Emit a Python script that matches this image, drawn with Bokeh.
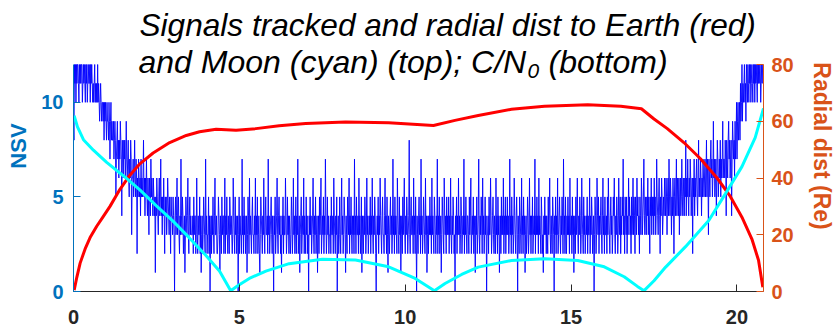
import numpy as np
from bokeh.plotting import figure
from bokeh.models import Range1d, LinearAxis, FixedTicker, Label
from bokeh.embed import file_html
from bokeh.resources import INLINE

# ---------------------------------------------------------------------------
# Data
# ---------------------------------------------------------------------------
# Number of signals tracked (NSV), sampled uniformly from t = 0 to t_end
t_end = 20.79
nsv_rise_start = [
    9, 8, 12, 11, 12, 10, 12, 11, 12, 12, 11, 10, 12, 11, 12, 11, 12, 12, 10, 11,
    12, 11, 12, 11, 10, 12, 11, 12, 10, 11, 12, 11, 11, 12, 10, 12, 11, 12, 11, 10,
    11, 10, 11, 12, 10, 11, 10, 11, 10, 12, 10, 11, 10, 9, 10, 11, 10, 9, 10, 10,
    9, 10, 8, 10, 9, 10, 9, 8, 10, 9, 9, 8, 10, 9, 7, 9, 10, 8, 9, 8,
    8, 9, 7, 8, 9, 8, 5, 7, 8, 9, 7, 8, 6, 8, 7, 9, 8, 7, 4, 8,
    7, 6, 8, 7, 8, 6, 7, 9, 7, 6, 7, 8, 6, 5, 7, 6, 8, 7, 3, 6,
    6, 7, 5, 6, 8, 6, 5, 7, 6, 2, 6, 5, 7, 6, 5, 6, 4, 7, 5, 6,
    5, 6, 8, 5, 6, 4, 6, 5, 7, 5, 4, 6, 5, 3, 6, 5, 4, 7, 5, 6,
    5, 4, 6, 5, 4, 5, 1, 5, 4, 6, 5, 4, 3, 5, 6, 4, 5, 7, 4, 5,
    3, 5, 4, 6, 4, 2, 5, 4, 5, 3, 4, 6, 5, 4, 3, 5, 4, 2, 5, 4,
    4, 3, 5, 4, 3, 0, 4, 5, 3, 4, 6, 3, 4, 5, 3, 2, 4, 3, 7, 4,
    3, 5, 4, 2, 3, 4, 1, 3, 5, 4, 3, 4, 6, 3, 2, 4, 5, 3, 4, 3,
]
nsv_middle = [
    3, 3, 4, 2, 5, 3, 4, 4, 2, 3, 6, 3, 2, 4, 3, 3, 5, 2, 4, 1,
    3, 4, 2, 3, 5, 4, 3, 2, 7, 3, 4, 2, 3, 3, 5, 2, 4, 0, 3, 4,
    2, 4, 3, 5, 3, 2, 4, 6, 3, 3, 4, 2, 2, 3, 5, 4, 3, 1, 4, 3,
    2, 5, 3, 4, 4, 2, 3, 6, 2, 4, 3, 5, 3, 2, 4, 3, 2, 5, 4, 3,
    4, 3, 2, 3, 6, 4, 3, 2, 5, 3, 4, 2, 3, 4, 0, 3, 5, 2, 4, 3,
    3, 2, 7, 3, 4, 2, 5, 3, 4, 2, 3, 4, 1, 3, 5, 4, 2, 6, 3, 4,
    3, 2, 4, 5, 3, 3, 2, 4, 3, 6, 2, 4, 3, 5, 2, 3, 4, 2, 1, 3,
    5, 4, 3, 2, 4, 3, 6, 3, 2, 4, 5, 3, 3, 4, 2, 7, 3, 4, 2, 3,
    4, 5, 3, 2, 4, 3, 0, 4, 3, 5, 2, 3, 4, 6, 3, 2, 4, 5, 3, 4,
    2, 3, 1, 4, 3, 5, 2, 4, 3, 3, 6, 4, 2, 3, 5, 3, 4, 2, 4, 3,
    2, 3, 5, 4, 2, 3, 6, 3, 4, 2, 3, 5, 2, 4, 3, 7, 2, 3, 4, 1,
    3, 4, 5, 2, 3, 4, 3, 6, 2, 4, 3, 2, 5, 3, 4, 2, 3, 0, 4, 3,
    5, 3, 4, 2, 3, 4, 6, 3, 2, 4, 3, 5, 2, 3, 4, 1, 3, 4, 2, 5,
    3, 4, 6, 2, 3, 4, 3, 5, 2, 4, 3, 7, 4, 2, 3, 5, 3, 4, 2, 3,
    3, 4, 2, 5, 3, 3, 4, 2, 6, 4, 3, 2, 4, 3, 5, 0, 3, 4, 2, 3,
    5, 3, 2, 4, 6, 3, 4, 2, 3, 5, 4, 3, 1, 4, 3, 2, 5, 4, 3, 6,
    2, 4, 3, 5, 3, 2, 4, 3, 4, 2, 7, 3, 4, 2, 5, 3, 3, 4, 2, 6,
    3, 4, 2, 3, 5, 1, 4, 3, 2, 4, 3, 5, 4, 2, 3, 6, 3, 4, 2, 3,
    4, 3, 5, 2, 4, 3, 6, 3, 2, 4, 3, 5, 4, 2, 0, 3, 4, 3, 5, 2,
    4, 3, 6, 4, 3, 2, 4, 5, 3, 3, 2, 4, 6, 3, 4, 2, 5, 3, 1, 4,
    3, 2, 4, 5, 3, 4, 2, 3, 7, 3, 4, 2, 5, 3, 4, 3, 2, 6, 4, 3,
    2, 5, 3, 4, 1, 3, 4, 2, 5, 3, 4, 6, 3, 2, 4, 3, 5, 4, 2, 3,
    4, 8, 3, 2, 4, 5, 3, 3, 4, 2, 6, 3, 4, 2, 5, 3, 0, 4, 3, 2,
    4, 5, 3, 4, 2, 7, 3, 4, 2, 3, 5, 4, 3, 2, 6, 3, 4, 1, 3, 4,
    2, 4, 3, 5, 3, 4, 2, 6, 3, 4, 3, 2, 5, 4, 3, 2, 4, 3, 7, 2,
    4, 3, 5, 2, 3, 4, 1, 3, 5, 4, 3, 2, 6, 4, 3, 4, 2, 5, 3, 4,
    3, 5, 2, 4, 3, 6, 3, 2, 4, 3, 5, 4, 2, 3, 0, 4, 3, 5, 2, 4,
    3, 6, 3, 4, 2, 3, 5, 4, 2, 3, 4, 3, 7, 2, 4, 3, 5, 3, 2, 4,
    4, 3, 2, 5, 3, 4, 6, 2, 3, 4, 3, 5, 2, 4, 3, 1, 4, 3, 5, 2,
    3, 4, 7, 3, 2, 4, 3, 5, 4, 2, 6, 3, 4, 2, 3, 5, 3, 4, 0, 3,
    3, 4, 2, 5, 3, 3, 6, 4, 2, 3, 4, 5, 3, 2, 4, 3, 2, 6, 3, 4,
    2, 5, 3, 4, 1, 3, 4, 2, 5, 3, 4, 3, 6, 2, 4, 3, 5, 2, 4, 3,
    5, 3, 4, 2, 3, 7, 3, 4, 2, 5, 3, 4, 2, 3, 6, 4, 3, 2, 4, 5,
    3, 0, 4, 3, 2, 5, 4, 3, 2, 6, 3, 4, 2, 5, 3, 4, 1, 3, 4, 2,
    3, 5, 4, 2, 3, 6, 3, 4, 2, 4, 3, 5, 2, 3, 4, 3, 7, 2, 4, 3,
    5, 3, 4, 2, 6, 3, 4, 3, 2, 5, 4, 2, 3, 1, 4, 3, 5, 3, 4, 2,
    4, 3, 2, 5, 3, 4, 6, 3, 2, 4, 3, 2, 5, 4, 3, 0, 4, 3, 5, 2,
    4, 3, 6, 2, 3, 4, 5, 3, 2, 4, 3, 5, 4, 2, 7, 3, 4, 2, 5, 3,
    2, 4, 3, 5, 3, 4, 2, 6, 3, 3, 4, 2, 5, 3, 4, 1, 3, 4, 2, 5,
    3, 4, 6, 3, 2, 4, 3, 5, 4, 2, 3, 6, 4, 3, 2, 5, 3, 4, 2, 3,
    4, 3, 5, 2, 4, 3, 3, 6, 2, 4, 3, 5, 4, 2, 3, 4, 0, 3, 5, 4,
    2, 3, 6, 4, 3, 5, 2, 4, 3, 4, 5, 3, 2, 4, 6, 3, 4, 2, 5, 3,
    3, 4, 2, 5, 3, 6, 4, 3, 2, 4, 5, 3, 4, 2, 3, 5, 4, 6, 3, 2,
    4, 3, 5, 4, 2, 3, 6, 4, 3, 5, 2, 4, 3, 5, 4, 7, 3, 4, 2, 5,
]
nsv_rise_end = [
    4, 3, 5, 2, 4, 3, 6, 4, 5, 3, 4, 2, 5, 3, 4, 6, 3, 5, 4, 2,
    5, 4, 3, 6, 4, 5, 3, 4, 2, 5, 4, 3, 6, 5, 3, 4, 5, 7, 4, 3,
    5, 4, 3, 5, 4, 6, 3, 5, 4, 2, 5, 4, 6, 3, 5, 4, 5, 3, 6, 4,
    5, 3, 4, 7, 5, 4, 3, 5, 6, 4, 2, 5, 4, 6, 5, 3, 4, 5, 4, 6,
    5, 4, 6, 5, 3, 5, 6, 4, 7, 5, 4, 6, 5, 3, 5, 4, 6, 5, 2, 5,
    6, 4, 5, 7, 4, 6, 5, 4, 6, 3, 5, 6, 4, 5, 7, 5, 4, 6, 5, 4,
    6, 5, 8, 4, 6, 5, 7, 5, 4, 6, 5, 7, 6, 4, 5, 6, 2, 6, 5, 7,
    4, 6, 5, 6, 7, 5, 4, 6, 8, 5, 6, 5, 7, 6, 4, 6, 5, 7, 6, 5,
    6, 7, 5, 6, 8, 5, 7, 6, 3, 7, 6, 5, 7, 8, 6, 7, 5, 6, 9, 6,
    7, 5, 6, 7, 4, 6, 8, 7, 5, 6, 7, 6, 8, 5, 7, 6, 7, 9, 6, 7,
    7, 6, 8, 7, 4, 8, 7, 6, 8, 9, 7, 8, 6, 7, 8, 4, 7, 9, 8, 7,
    8, 6, 9, 7, 8, 10, 7, 9, 10, 8, 9, 10, 8, 11, 9, 10, 12, 9, 11, 10,
    11, 12, 10, 11, 9, 12, 11, 10, 12, 11, 10, 12, 11, 12, 10, 11, 12, 11, 10, 12,
    11, 12, 10, 12, 11, 12, 11, 10, 12, 11, 12, 11, 12, 12, 10, 11, 12, 11, 12, 12,
]

# Radial distance to Earth (Re)
earth_t = [0.02, 0.1, 0.2, 0.35, 0.5, 0.7, 0.9, 1.1, 1.4, 1.7, 2.0, 2.4, 2.9, 3.4,
           3.8, 4.3, 4.9, 5.5, 6.2, 7.0, 8.2, 9.5, 10.85, 11.5, 12.2, 13.2, 14.2,
           15.5, 16.5, 17.12, 17.5, 17.9, 18.4, 18.9, 19.4, 19.8, 20.15, 20.45,
           20.65, 20.78]
earth_r = [0.5, 5.0, 10.0, 15.0, 19.0, 23.0, 26.5, 30.0, 36.0, 41.0, 45.0, 48.8,
           52.5, 55.0, 56.3, 57.2, 56.8, 57.4, 58.4, 59.2, 59.7, 59.5, 58.5, 60.3,
           62.0, 64.2, 65.3, 65.8, 65.3, 64.4, 60.8, 57.4, 52.5, 46.8, 40.0, 33.5,
           26.2, 18.5, 11.0, 1.5]

# Radial distance to Moon (Re)
moon_t = [0.02, 0.12, 0.3, 0.6, 1.0, 1.5, 2.0, 2.5, 3.0, 3.5, 4.0, 4.4, 4.74, 4.95,
          5.3, 5.8, 6.5, 7.5, 8.5, 9.5, 10.3, 10.88, 11.2, 11.7, 12.2, 13.2, 14.2,
          15.2, 16.0, 16.6, 17.0, 17.2, 17.5, 17.85, 18.45, 19.15, 19.65, 20.15,
          20.55, 20.8]
moon_r = [62.0, 58.0, 53.5, 49.8, 45.5, 40.8, 35.8, 30.2, 24.8, 18.8, 12.6, 7.2, 0.3,
          2.0, 4.6, 7.2, 9.8, 11.4, 11.1, 8.7, 4.6, 0.3, 2.8, 6.0, 8.6, 10.9, 11.5,
          10.9, 8.7, 5.2, 1.8, 0.3, 3.8, 8.6, 15.8, 25.0, 34.4, 44.0, 54.2, 64.5]

x_ticks = [0, 5, 10, 15, 20]
nsv_ticks = [0, 5, 10]
dist_ticks = [0, 20, 40, 60, 80]

nsv = nsv_rise_start + nsv_middle + nsv_rise_end
nsv_t = np.arange(len(nsv)) * t_end / (len(nsv) - 1)

# ---------------------------------------------------------------------------
# Layout: the frame runs up to the top edge of the canvas so that the title
# (drawn as labels) can overlap the plotting area; the axes stop at their
# data limits via `bounds`.
# ---------------------------------------------------------------------------
LEFT_COLOR = "#0072BD"
RIGHT_COLOR = "#D95319"
AXIS_DARK = "#262626"
FONT = "Liberation Sans"

NSV_MAX, DIST_MAX = 12, 80
FRAME_H, AXES_H = 291, 227          # frame height vs. height of the 0..12 axes
top_scale = FRAME_H / AXES_H

p = figure(
    width=837, height=331,
    x_range=Range1d(0, 20.8), y_range=Range1d(0, NSV_MAX * top_scale),
    output_backend="svg", toolbar_location=None, title=None,
    min_border_left=73, min_border_right=72,
    min_border_top=0, min_border_bottom=40,
)
p.outline_line_color = None
p.xgrid.visible = False
p.ygrid.visible = False
p.background_fill_color = "white"
p.border_fill_color = "white"

p.extra_y_ranges = {"dist": Range1d(0, DIST_MAX * top_scale)}

# Signals tracked (left axis)
p.line(nsv_t, nsv, line_color="#0000FF", line_width=0.9)
# Distances (right axis)
p.line(earth_t, earth_r, line_color="#FF0000", line_width=3, y_range_name="dist")
p.line(moon_t, moon_r, line_color="#00FFFF", line_width=3, y_range_name="dist")


def style_axis(ax, color, ticks):
    ax.ticker = FixedTicker(ticks=ticks)
    ax.axis_line_color = color
    ax.axis_line_width = 1
    ax.major_tick_line_color = color
    ax.major_tick_in = 7
    ax.major_tick_out = 0
    ax.minor_tick_line_color = None
    ax.major_label_text_color = color
    ax.major_label_text_font = FONT
    ax.major_label_text_font_style = "bold"
    ax.major_label_text_font_size = "20px"
    ax.axis_label_text_color = color
    ax.axis_label_text_font = FONT
    ax.axis_label_text_font_style = "bold"
    ax.axis_label_text_font_size = "22px"


xa = p.xaxis[0]
style_axis(xa, AXIS_DARK, x_ticks)
xa.major_label_standoff = 18

ya = p.yaxis[0]
style_axis(ya, LEFT_COLOR, nsv_ticks)
ya.bounds = (0, NSV_MAX)
ya.axis_label = "NSV"
ya.major_label_standoff = 10
ya.axis_label_standoff = 7

ra = LinearAxis(y_range_name="dist")
style_axis(ra, RIGHT_COLOR, dist_ticks)
ra.bounds = (0, DIST_MAX)
ra.axis_label = "Radial dist (Re)"
ra.axis_label_text_font_size = "23px"
ra.major_label_standoff = 8
ra.axis_label_standoff = 12
p.add_layout(ra, "right")

# Two-line italic title, left aligned (screen units measured from the
# bottom-left corner of the frame)
title_kw = dict(x_units="screen", y_units="screen", text_font=FONT,
                text_font_style="italic", text_color="black",
                text_baseline="alphabetic", text_align="left")
p.add_layout(Label(x=66, y=267, text="Signals tracked and radial dist to Earth (red)",
                   text_font_size="31.6px", **title_kw))
p.add_layout(Label(x=65, y=230, text="and Moon (cyan) (top); C/N",
                   text_font_size="32px", **title_kw))
p.add_layout(Label(x=454, y=221, text="0", text_font_size="21px", **title_kw))
p.add_layout(Label(x=475, y=230, text="(bottom)", text_font_size="32px", **title_kw))

open("out.html", "w").write(file_html(p, INLINE))
